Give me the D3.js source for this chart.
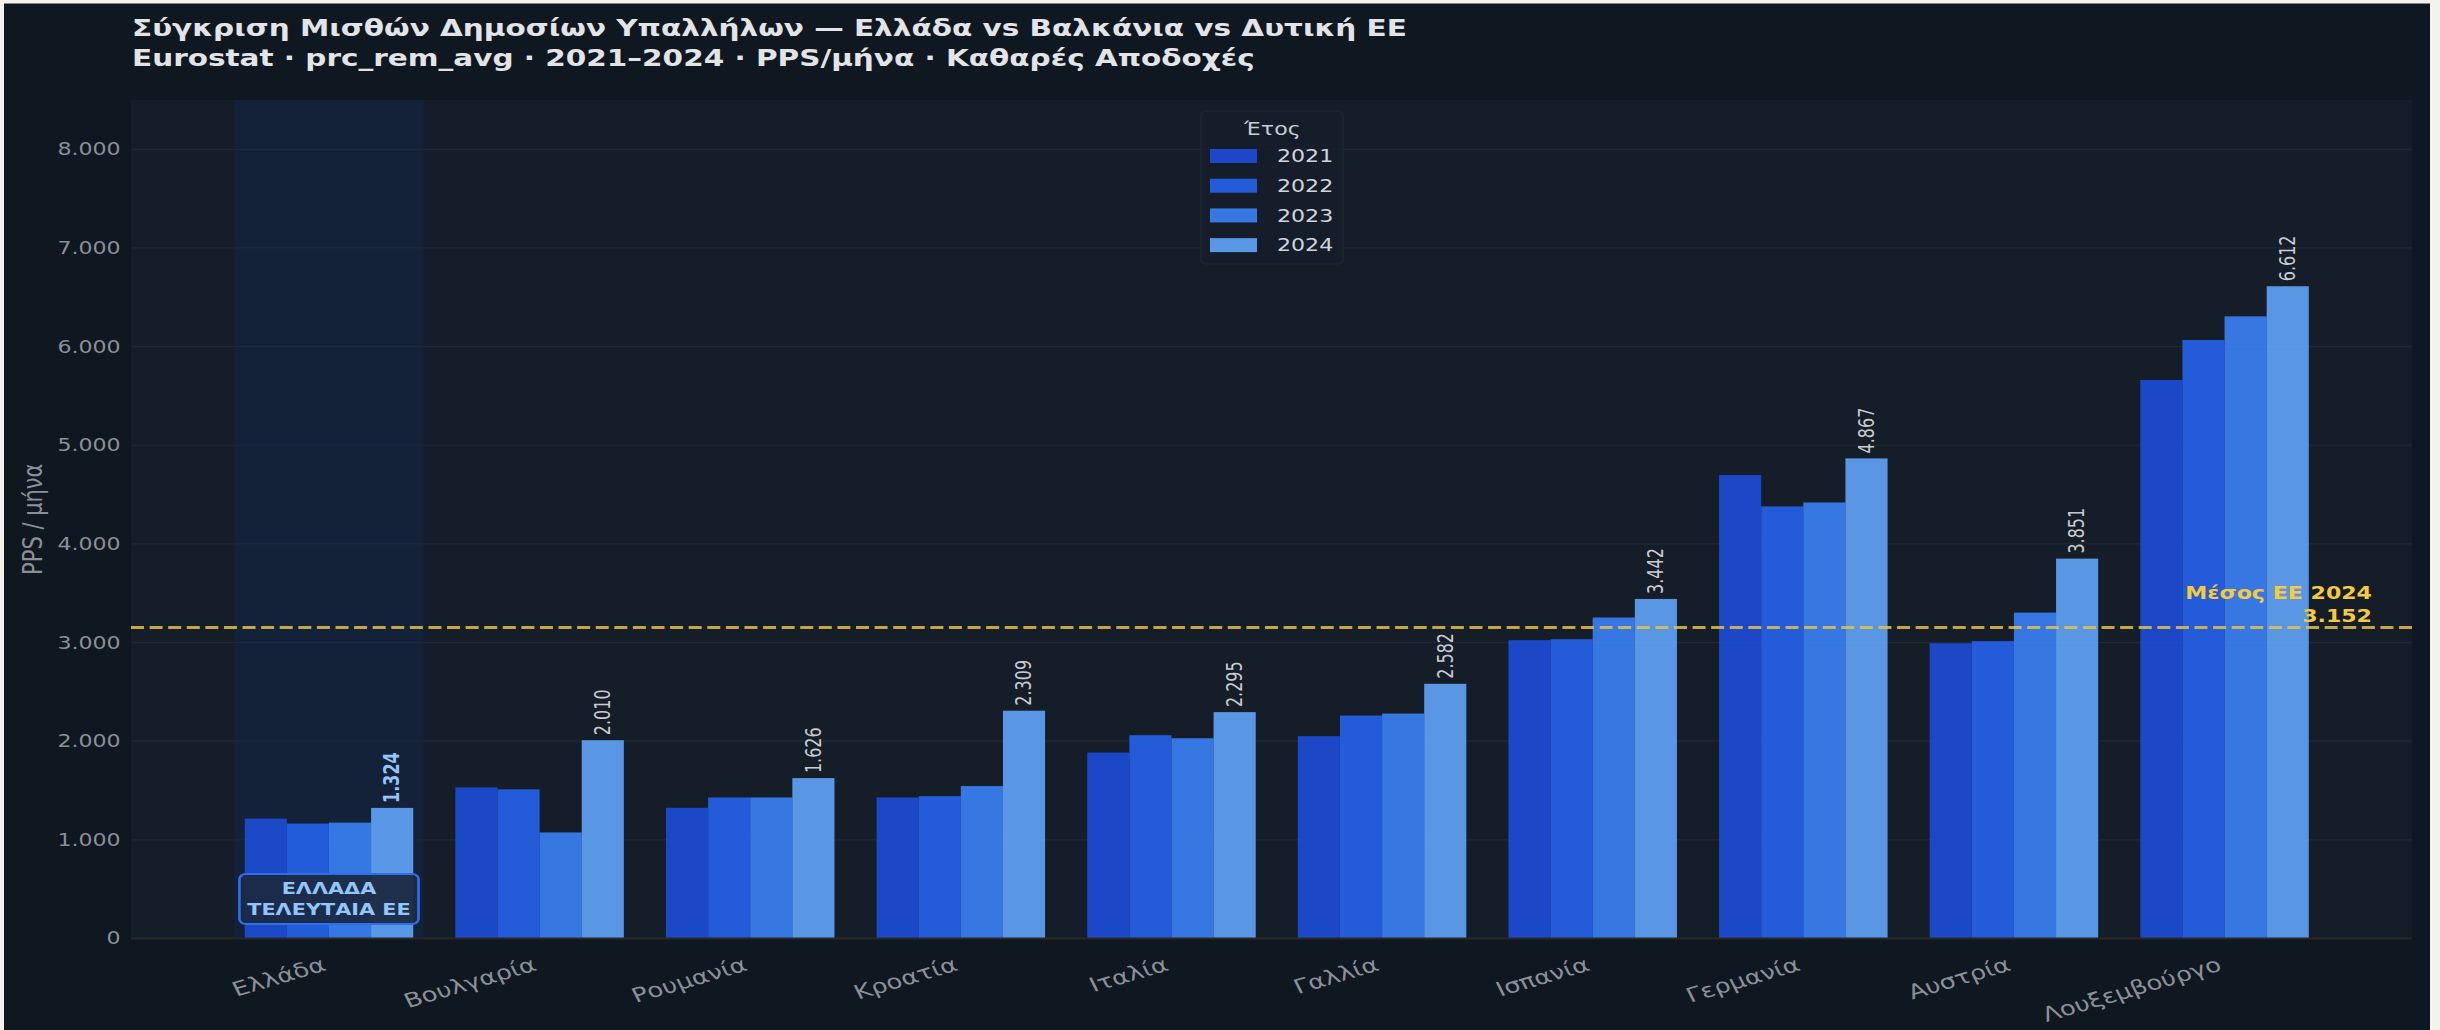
<!DOCTYPE html>
<html><head><meta charset="utf-8">
<script src="https://cdn.jsdelivr.net/npm/d3@7"></script>
<style>
html,body{margin:0;padding:0;background:#f3f3ee;}
svg{display:block;}
text{font-family:"DejaVu Sans",sans-serif;}
</style></head><body>
<svg id="c" width="2440" height="1030"></svg>
<script>
// ---- data ----
const countries = ["Ελλάδα","Βουλγαρία","Ρουμανία","Κροατία","Ιταλία","Γαλλία","Ισπανία","Γερμανία","Αυστρία","Λουξεμβούργο"];
const years = ["2021","2022","2023","2024"];
const v2021 = [1215,1532,1325,1430,1885,2051,3024,4698,2993,5662];
const v2022 = [1165,1512,1430,1443,2061,2260,3034,4380,3014,6067];
const v2023 = [1175,1075,1430,1545,2030,2280,3254,4420,3304,6307];
const v2024 = [1324,2010,1626,2309,2295,2582,3442,4867,3851,6612];
const euMean2024 = 3152;
const yTicks = [0,1000,2000,3000,4000,5000,6000,7000,8000];
const titleLines = ["Σύγκριση Μισθών Δημοσίων Υπαλλήλων — Ελλάδα vs Βαλκάνια vs Δυτική ΕΕ",
                    "Eurostat · prc_rem_avg · 2021–2024 · PPS/μήνα · Καθαρές Αποδοχές"];
const yLabel = "PPS / μήνα";
const legendTitle = "Έτος";
const meanLabel = ["Μέσος ΕΕ 2024","3.152"];
const greeceNote = ["ΕΛΛΑΔΑ","ΤΕΛΕΥΤΑΙΑ ΕΕ"];
const series = [v2021, v2022, v2023, v2024];
const barColors = ["#1d4ed8","#2563eb","#3b82f6","#60a5fa"];

// ---- layout ----
const S = 1.3; // horizontal stretch of the reference
const W = 2440, H = 1030;
const plotL = 131/S, plotR = 2412/S, plotT = 100, plotB = 938.5;
const locale = d3.formatLocale({decimal:",", thousands:".", grouping:[3], currency:["","€"]});
const fmt = locale.format(",d");

const svg = d3.select("#c");
svg.append("rect").attr("x",4).attr("y",3.5).attr("width",2426).attr("height",H-3.5).attr("fill","#0f1721");
const g = svg.append("g").attr("transform",`scale(${S},1)`);

const x = d3.scaleLinear().domain([-0.94, 9.89]).range([plotL, plotR]);
const y = d3.scaleLinear().domain([0, 8500]).range([plotB, plotT]);

// plot background
g.append("rect").attr("x",plotL).attr("y",plotT).attr("width",plotR-plotL).attr("height",plotB-plotT).attr("fill","#151d29");
// highlight band Greece
g.append("rect").attr("x",x(-0.45)).attr("y",plotT).attr("width",x(0.45)-x(-0.45)).attr("height",plotB-plotT).attr("fill","#132139");

// gridlines
g.append("g").selectAll("line").data(yTicks.filter(d=>d>0)).join("line")
  .attr("x1",plotL).attr("x2",plotR).attr("y1",d=>y(d)).attr("y2",d=>y(d))
  .attr("stroke","#1f2835").attr("stroke-width",1.2);

// bars
const bw = 0.2;
series.forEach((vals,k)=>{
  g.append("g").selectAll("rect").data(vals).join("rect")
    .attr("x",(d,i)=>x(i+(k-1.5)*bw-bw/2))
    .attr("width",x(bw)-x(0))
    .attr("y",d=>y(d)).attr("height",d=>y(0)-y(d))
    .attr("fill",barColors[k]).attr("fill-opacity",0.9);
});

// zero line
g.append("line").attr("x1",plotL).attr("x2",plotR).attr("y1",y(0)).attr("y2",y(0))
  .attr("stroke","#2b2824").attr("stroke-width",2);

// EU mean line
g.append("line").attr("x1",plotL).attr("x2",plotR).attr("y1",y(euMean2024)).attr("y2",y(euMean2024))
  .attr("stroke","#e3c04a").attr("stroke-width",3).attr("stroke-opacity",0.85)
  .attr("stroke-dasharray","10,4.3");
const ml = g.append("text").attr("text-anchor","end").attr("fill","#f7ca3e")
  .attr("font-weight","bold").attr("font-size",17);
ml.append("tspan").attr("x",2372/S).attr("y",599).text(meanLabel[0]);
ml.append("tspan").attr("x",2372/S).attr("y",622).text(meanLabel[1]);

// value labels on 2024 bars
g.append("g").selectAll("text").data(v2024).join("text")
  .attr("transform",(d,i)=>`translate(${x(i+1.5*bw)},${y(d)-5}) rotate(-90)`)
  .attr("text-anchor","start").attr("dy","0.35em")
  .attr("font-size",16)
  .attr("font-weight",(d,i)=>i===0?"bold":"normal")
  .attr("fill",(d,i)=>i===0?"#93c5fd":"#c8ccd2")
  .text(d=>fmt(d));

// Greece note box
const note = g.append("g");
const noteText = note.append("text").attr("text-anchor","middle").attr("fill","#93c5fd")
  .attr("font-weight","bold").attr("font-size",16);
noteText.append("tspan").attr("x",x(0)).attr("y",888).attr("dy","0.35em").text(greeceNote[0]);
noteText.append("tspan").attr("x",x(0)).attr("y",909).attr("dy","0.35em").text(greeceNote[1]);
const nb = noteText.node().getBBox();
note.insert("rect","text").attr("x",nb.x-6).attr("y",874).attr("width",nb.width+12).attr("height",50)
  .attr("rx",5).attr("fill","#1c2a45").attr("fill-opacity",0.95).attr("stroke","#2f6fe8").attr("stroke-width",2);

// axes
const yAxis = g.append("g").attr("transform",`translate(${plotL},0)`)
  .call(d3.axisLeft(y).tickValues(yTicks).tickFormat(fmt).tickSize(0).tickPadding(8));
yAxis.select(".domain").remove();
yAxis.selectAll("text").attr("font-size",17).attr("fill","#8a9099").attr("font-family","DejaVu Sans");

const rotDeg = 21, rot = rotDeg*Math.PI/180, fx = 20;
const xAxis = g.append("g").attr("transform",`translate(0,${plotB})`)
  .call(d3.axisBottom(x).tickValues(d3.range(countries.length)).tickFormat(i=>countries[i]).tickSize(0));
xAxis.select(".domain").remove();
xAxis.selectAll("text")
  .attr("font-size",fx).attr("fill","#8b9098").attr("font-family","DejaVu Sans")
  .attr("text-anchor","end").attr("dy",null).attr("y",null).attr("x",null)
  .attr("transform",`translate(${-0.236*fx*Math.sin(rot)},${14+0.928*fx*Math.cos(rot)}) rotate(${-rotDeg})`);

// y label
g.append("text").attr("transform",`translate(${32/S},${(plotT+plotB)/2}) rotate(-90)`)
  .attr("text-anchor","middle").attr("dy","0.35em").attr("font-size",21).attr("fill","#8a9099").text(yLabel);

// legend
const lg = g.append("g");
lg.append("rect").attr("x",1201/S).attr("y",111).attr("width",(1343-1201)/S).attr("height",153)
  .attr("rx",4).attr("fill","#151e2b").attr("fill-opacity",0.9).attr("stroke","#1e2836").attr("stroke-width",1);
lg.append("text").attr("x",1272.5/S).attr("y",135).attr("text-anchor","middle").attr("font-size",17)
  .attr("fill","#c9cdd3").text(legendTitle);
const rows = lg.selectAll("g.row").data(years).join("g").attr("class","row")
  .attr("transform",(d,i)=>`translate(0,${156+i*29.7})`);
rows.append("rect").attr("x",1210/S).attr("y",-7).attr("width",(1257-1210)/S).attr("height",14)
  .attr("fill",(d,i)=>barColors[i]).attr("fill-opacity",0.9);
rows.append("text").attr("x",1277/S).attr("dy","0.36em").attr("font-size",17).attr("fill","#d1d5db").text(d=>d);

// title
const tt = g.append("text").attr("font-weight","bold").attr("font-size",22.7).attr("fill","#e2e4e8");
tt.append("tspan").attr("x",132/S).attr("y",36).text(titleLines[0]);
tt.append("tspan").attr("x",132/S).attr("y",66).text(titleLines[1]);
</script>
</body></html>
